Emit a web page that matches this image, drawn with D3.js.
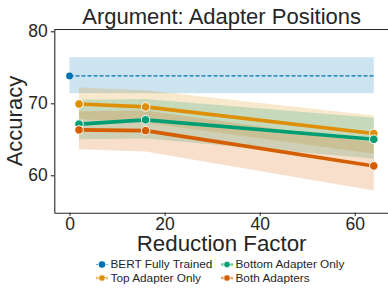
<!DOCTYPE html>
<html>
<head>
<meta charset="utf-8">
<script src="https://cdn.jsdelivr.net/npm/d3@7"></script>
<style>
  html, body { margin: 0; padding: 0; background: #fff; }
  svg { display: block; font-family: "Liberation Sans", Arial, sans-serif; }
</style>
</head>
<body>
<div id="chart"></div>
<script>
// reduction factors used by the adapter runs
const factors = [2, 16, 64];

// mean accuracy per series
const topMean    = [69.9, 69.5, 65.8];
const bottomMean = [67.1, 67.7, 65.0];
const bothMean   = [66.3, 66.2, 61.3];

// confidence bands (lower / upper)
const topLow     = [67.8, 67.3, 63.0];
const topHigh    = [72.2, 71.8, 68.3];
const bottomLow  = [65.0, 65.1, 62.3];
const bottomHigh = [70.5, 70.6, 68.0];
const bothLow    = [63.6, 63.3, 57.9];
const bothHigh   = [68.9, 69.0, 64.6];

// full BERT reference
const bertX    = [0, 64];
const bertMean = 73.8;
const bertLow  = 71.4;
const bertHigh = 76.4;

const xTicks = [0, 20, 40, 60];
const yTicks = [60, 70, 80];

const seriesNames  = ['BERT Fully Trained', 'Top Adapter Only', 'Bottom Adapter Only', 'Both Adapters'];
const seriesColors = ['#0173b2', '#de8f05', '#029e73', '#d55e00'];

const width = 388, height = 288;
const margin = { top: 29.5, right: -1, bottom: 75.3, left: 54.3 };

const svg = d3.select('#chart').append('svg')
  .attr('width', width)
  .attr('height', height);

const x = d3.scaleLinear()
  .domain([-3.2, 67.2])
  .range([margin.left, width - margin.right]);

const y = d3.scaleLinear()
  .domain([54.8, 80.25])
  .range([height - margin.bottom, margin.top]);

const ink = '#262626';

// 1) bands
svg.append('rect')
  .attr('x', x(bertX[0]))
  .attr('y', y(bertHigh))
  .attr('width', x(bertX[1]) - x(bertX[0]))
  .attr('height', y(bertLow) - y(bertHigh))
  .attr('fill', seriesColors[0])
  .attr('fill-opacity', 0.2);

const series = [
  { mean: topMean,    low: topLow,    high: topHigh,    color: seriesColors[1] },
  { mean: bottomMean, low: bottomLow, high: bottomHigh, color: seriesColors[2] },
  { mean: bothMean,   low: bothLow,   high: bothHigh,   color: seriesColors[3] }
];

const area = d3.area()
  .x(d => x(d.f))
  .y0(d => y(d.lo))
  .y1(d => y(d.hi));

series.forEach(s => {
  const pts = factors.map((f, i) => ({ f, lo: s.low[i], hi: s.high[i] }));
  svg.append('path')
    .attr('d', area(pts))
    .attr('fill', s.color)
    .attr('fill-opacity', 0.2);
});

// 2) BERT dashed reference line + marker
svg.append('line')
  .attr('x1', x(bertX[0])).attr('x2', x(bertX[1]))
  .attr('y1', y(bertMean)).attr('y2', y(bertMean))
  .attr('stroke', seriesColors[0])
  .attr('stroke-width', 1.2)
  .attr('stroke-dasharray', '4,2');

svg.append('circle')
  .attr('cx', x(bertX[0]))
  .attr('cy', y(bertMean))
  .attr('r', 3.4)
  .attr('fill', seriesColors[0]);

// 3) adapter lines
const line = d3.line()
  .x(d => x(d.f))
  .y(d => y(d.v));

series.forEach(s => {
  const pts = factors.map((f, i) => ({ f, v: s.mean[i] }));
  svg.append('path')
    .attr('d', line(pts))
    .attr('fill', 'none')
    .attr('stroke', s.color)
    .attr('stroke-width', 3.6)
    .attr('stroke-linejoin', 'round');
  svg.selectAll(null)
    .data(pts)
    .join('circle')
      .attr('cx', d => x(d.f))
      .attr('cy', d => y(d.v))
      .attr('r', 4.3)
      .attr('fill', s.color)
      .attr('stroke', '#fff')
      .attr('stroke-width', 1);
});

// 4) axes (left + bottom + top spine)
const x0 = margin.left, x1 = width - margin.right;
const y0 = height - margin.bottom, y1 = margin.top;

svg.append('line')
  .attr('x1', x0).attr('x2', x1).attr('y1', y1).attr('y2', y1)
  .attr('stroke', ink).attr('stroke-width', 1.1);

const xAxis = svg.append('g')
  .attr('transform', `translate(0,${y0})`)
  .call(d3.axisBottom(x).tickValues(xTicks).tickSize(3).tickSizeOuter(0).tickPadding(1.5));

const yAxis = svg.append('g')
  .attr('transform', `translate(${x0},0)`)
  .call(d3.axisLeft(y).tickValues(yTicks).tickSize(3.5).tickSizeOuter(0).tickPadding(3));

[xAxis, yAxis].forEach(g => {
  g.attr('font-family', null).attr('font-size', null);
  g.select('.domain').attr('stroke', ink).attr('stroke-width', 1.1);
  g.selectAll('.tick line').attr('stroke', ink).attr('stroke-width', 1.1);
  g.selectAll('.tick text')
    .attr('fill', ink)
    .attr('font-size', 17.5);
});

// 5) titles
svg.append('text')
  .attr('x', (x0 + x1) / 2)
  .attr('y', 24)
  .attr('text-anchor', 'middle')
  .attr('font-size', 22)
  .attr('fill', ink)
  .text('Argument: Adapter Positions');

svg.append('text')
  .attr('x', (x0 + x1) / 2)
  .attr('y', 251)
  .attr('text-anchor', 'middle')
  .attr('font-size', 22.3)
  .attr('fill', ink)
  .text('Reduction Factor');

svg.append('text')
  .attr('transform', `translate(22,${(y0 + y1) / 2}) rotate(-90)`)
  .attr('text-anchor', 'middle')
  .attr('font-size', 22)
  .attr('fill', ink)
  .text('Accuracy');

// 6) legend, two columns
const legendPos = [
  { mx: 102, ty: 264.5 }, { mx: 102, ty: 278 },
  { mx: 227, ty: 264.5 }, { mx: 227, ty: 278 }
];
// column-major order: BERT, Top | Bottom, Both
const legendOrder = [0, 1, 2, 3];

const legend = svg.append('g');
legendOrder.forEach((si, k) => {
  const p = legendPos[k];
  const g = legend.append('g');
  g.append('line')
    .attr('x1', p.mx - 6).attr('x2', p.mx + 6)
    .attr('y1', p.ty).attr('y2', p.ty)
    .attr('stroke', seriesColors[si])
    .attr('stroke-opacity', 0.6)
    .attr('stroke-width', si === 0 ? 1.2 : 2.4)
    .attr('stroke-dasharray', si === 0 ? '2,1.5' : null);
  g.append('circle')
    .attr('cx', p.mx).attr('cy', p.ty)
    .attr('r', 3.3)
    .attr('fill', seriesColors[si])
    .attr('stroke', '#fff')
    .attr('stroke-width', si === 0 ? 0 : 0.8);
  g.append('text')
    .attr('x', p.mx + 8.5)
    .attr('y', p.ty + 3.5)
    .attr('font-size', 11.8)
    .attr('fill', ink)
    .text(seriesNames[si]);
});
</script>
</body>
</html>
